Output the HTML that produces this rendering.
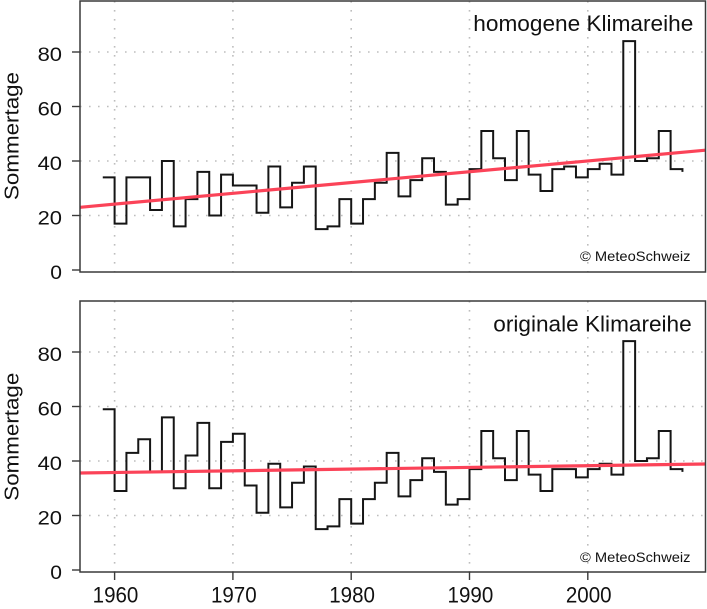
<!DOCTYPE html>
<html><head><meta charset="utf-8"><style>
html,body{margin:0;padding:0;background:#fff;}
svg{display:block;}
text{font-family:"Liberation Sans",Arial,sans-serif;fill:#111;}
</style></head><body>
<svg width="707" height="609" viewBox="0 0 707 609" xmlns="http://www.w3.org/2000/svg">
<defs>
<clipPath id="c1"><rect x="80" y="1" width="625.5" height="271"/></clipPath>
<clipPath id="c2"><rect x="80" y="301" width="625.5" height="271"/></clipPath>
</defs>

<!-- ===== TOP PANEL ===== -->
<g stroke="#bdbdbd" stroke-width="1.6" stroke-dasharray="1.6 7.4" fill="none">
<line x1="80" y1="215.5" x2="705.5" y2="215.5"/>
<line x1="80" y1="161" x2="705.5" y2="161"/>
<line x1="80" y1="106.5" x2="705.5" y2="106.5"/>
<line x1="80" y1="52" x2="705.5" y2="52"/>
<line x1="114.6" y1="1" x2="114.6" y2="272"/>
<line x1="232.9" y1="1" x2="232.9" y2="272"/>
<line x1="351.2" y1="1" x2="351.2" y2="272"/>
<line x1="469.5" y1="1" x2="469.5" y2="272"/>
<line x1="587.8" y1="1" x2="587.8" y2="272"/>
</g>
<g transform="translate(114.6,270) scale(11.83,-2.725) translate(-1960,0)">
<polyline fill="none" stroke="#151515" stroke-width="2" vector-effect="non-scaling-stroke" stroke-linejoin="miter"
points="1959,34 1960,34 1960,17 1961,17 1961,34 1963,34 1963,22 1964,22 1964,40 1965,40 1965,16 1966,16 1966,26 1967,26 1967,36 1968,36 1968,20 1969,20 1969,35 1970,35 1970,31 1972,31 1972,21 1973,21 1973,38 1974,38 1974,23 1975,23 1975,32 1976,32 1976,38 1977,38 1977,15 1978,15 1978,16 1979,16 1979,26 1980,26 1980,17 1981,17 1981,26 1982,26 1982,32 1983,32 1983,43 1984,43 1984,27 1985,27 1985,33 1986,33 1986,41 1987,41 1987,36 1988,36 1988,24 1989,24 1989,26 1990,26 1990,37 1991,37 1991,51 1992,51 1992,41 1993,41 1993,33 1994,33 1994,51 1995,51 1995,35 1996,35 1996,29 1997,29 1997,37 1998,37 1998,38 1999,38 1999,34 2000,34 2000,37 2001,37 2001,39 2002,39 2002,35 2003,35 2003,84 2004,84 2004,40 2005,40 2005,41 2006,41 2006,51 2007,51 2007,37 2008,37 2008,36"/>
</g>
<line clip-path="url(#c1)" x1="80" y1="207.3" x2="705.5" y2="150.2" stroke="#fb4358" stroke-width="3.2"/>
<rect x="80" y="1" width="625.5" height="271" fill="none" stroke="#3a3a3a" stroke-width="1.5"/>
<g stroke="#3a3a3a" stroke-width="1.4">
<line x1="72" y1="270" x2="80" y2="270"/>
<line x1="72" y1="215.5" x2="80" y2="215.5"/>
<line x1="72" y1="161" x2="80" y2="161"/>
<line x1="72" y1="106.5" x2="80" y2="106.5"/>
<line x1="72" y1="52" x2="80" y2="52"/>
</g>
<g font-size="19" text-anchor="end">
<text x="62" y="279" textLength="11.7" lengthAdjust="spacingAndGlyphs">0</text>
<text x="62" y="224.5" textLength="24.4" lengthAdjust="spacingAndGlyphs">20</text>
<text x="62" y="170" textLength="24.4" lengthAdjust="spacingAndGlyphs">40</text>
<text x="62" y="115.5" textLength="24.4" lengthAdjust="spacingAndGlyphs">60</text>
<text x="62" y="61" textLength="24.4" lengthAdjust="spacingAndGlyphs">80</text>
</g>
<text transform="translate(18.5,136) rotate(-90)" text-anchor="middle" font-size="20" textLength="128" lengthAdjust="spacingAndGlyphs">Sommertage</text>
<text x="473.3" y="31" font-size="22" textLength="220" lengthAdjust="spacingAndGlyphs">homogene Klimareihe</text>
<text x="580" y="261" font-size="14" textLength="110.5" lengthAdjust="spacingAndGlyphs">© MeteoSchweiz</text>

<!-- ===== BOTTOM PANEL ===== -->
<g stroke="#bdbdbd" stroke-width="1.6" stroke-dasharray="1.6 7.4" fill="none">
<line x1="80" y1="515.5" x2="705.5" y2="515.5"/>
<line x1="80" y1="461" x2="705.5" y2="461"/>
<line x1="80" y1="406.5" x2="705.5" y2="406.5"/>
<line x1="80" y1="352" x2="705.5" y2="352"/>
<line x1="114.6" y1="301" x2="114.6" y2="572"/>
<line x1="232.9" y1="301" x2="232.9" y2="572"/>
<line x1="351.2" y1="301" x2="351.2" y2="572"/>
<line x1="469.5" y1="301" x2="469.5" y2="572"/>
<line x1="587.8" y1="301" x2="587.8" y2="572"/>
</g>
<g transform="translate(114.6,570) scale(11.83,-2.725) translate(-1960,0)">
<polyline fill="none" stroke="#151515" stroke-width="2" vector-effect="non-scaling-stroke" stroke-linejoin="miter"
points="1959,59 1960,59 1960,29 1961,29 1961,43 1962,43 1962,48 1963,48 1963,36 1964,36 1964,56 1965,56 1965,30 1966,30 1966,42 1967,42 1967,54 1968,54 1968,30 1969,30 1969,47 1970,47 1970,50 1971,50 1971,31 1972,31 1972,21 1973,21 1973,39 1974,39 1974,23 1975,23 1975,32 1976,32 1976,38 1977,38 1977,15 1978,15 1978,16 1979,16 1979,26 1980,26 1980,17 1981,17 1981,26 1982,26 1982,32 1983,32 1983,43 1984,43 1984,27 1985,27 1985,33 1986,33 1986,41 1987,41 1987,36 1988,36 1988,24 1989,24 1989,26 1990,26 1990,37 1991,37 1991,51 1992,51 1992,41 1993,41 1993,33 1994,33 1994,51 1995,51 1995,35 1996,35 1996,29 1997,29 1997,37 1999,37 1999,34 2000,34 2000,37 2001,37 2001,39 2002,39 2002,35 2003,35 2003,84 2004,84 2004,40 2005,40 2005,41 2006,41 2006,51 2007,51 2007,37 2008,37 2008,36"/>
</g>
<line clip-path="url(#c2)" x1="80" y1="473" x2="705.5" y2="464" stroke="#fb4358" stroke-width="3.2"/>
<rect x="80" y="301" width="625.5" height="271" fill="none" stroke="#3a3a3a" stroke-width="1.5"/>
<g stroke="#3a3a3a" stroke-width="1.4">
<line x1="72" y1="570" x2="80" y2="570"/>
<line x1="72" y1="515.5" x2="80" y2="515.5"/>
<line x1="72" y1="461" x2="80" y2="461"/>
<line x1="72" y1="406.5" x2="80" y2="406.5"/>
<line x1="72" y1="352" x2="80" y2="352"/>
<line x1="114.6" y1="572" x2="114.6" y2="580"/>
<line x1="232.9" y1="572" x2="232.9" y2="580"/>
<line x1="351.2" y1="572" x2="351.2" y2="580"/>
<line x1="469.5" y1="572" x2="469.5" y2="580"/>
<line x1="587.8" y1="572" x2="587.8" y2="580"/>
</g>
<g font-size="19" text-anchor="end">
<text x="62" y="579" textLength="11.7" lengthAdjust="spacingAndGlyphs">0</text>
<text x="62" y="524.5" textLength="24.4" lengthAdjust="spacingAndGlyphs">20</text>
<text x="62" y="470" textLength="24.4" lengthAdjust="spacingAndGlyphs">40</text>
<text x="62" y="415.5" textLength="24.4" lengthAdjust="spacingAndGlyphs">60</text>
<text x="62" y="361" textLength="24.4" lengthAdjust="spacingAndGlyphs">80</text>
</g>
<g font-size="22" text-anchor="middle">
<text x="115.5" y="602.5" textLength="45.7" lengthAdjust="spacingAndGlyphs">1960</text>
<text x="233.8" y="602.5" textLength="45.7" lengthAdjust="spacingAndGlyphs">1970</text>
<text x="352.1" y="602.5" textLength="45.7" lengthAdjust="spacingAndGlyphs">1980</text>
<text x="470.4" y="602.5" textLength="45.7" lengthAdjust="spacingAndGlyphs">1990</text>
<text x="588.7" y="602.5" textLength="45.7" lengthAdjust="spacingAndGlyphs">2000</text>
</g>
<text transform="translate(18.5,436.7) rotate(-90)" text-anchor="middle" font-size="20" textLength="128" lengthAdjust="spacingAndGlyphs">Sommertage</text>
<text x="493.3" y="331.5" font-size="22" textLength="198.4" lengthAdjust="spacingAndGlyphs">originale Klimareihe</text>
<text x="580" y="562" font-size="14" textLength="110.5" lengthAdjust="spacingAndGlyphs">© MeteoSchweiz</text>
</svg>
</body></html>
